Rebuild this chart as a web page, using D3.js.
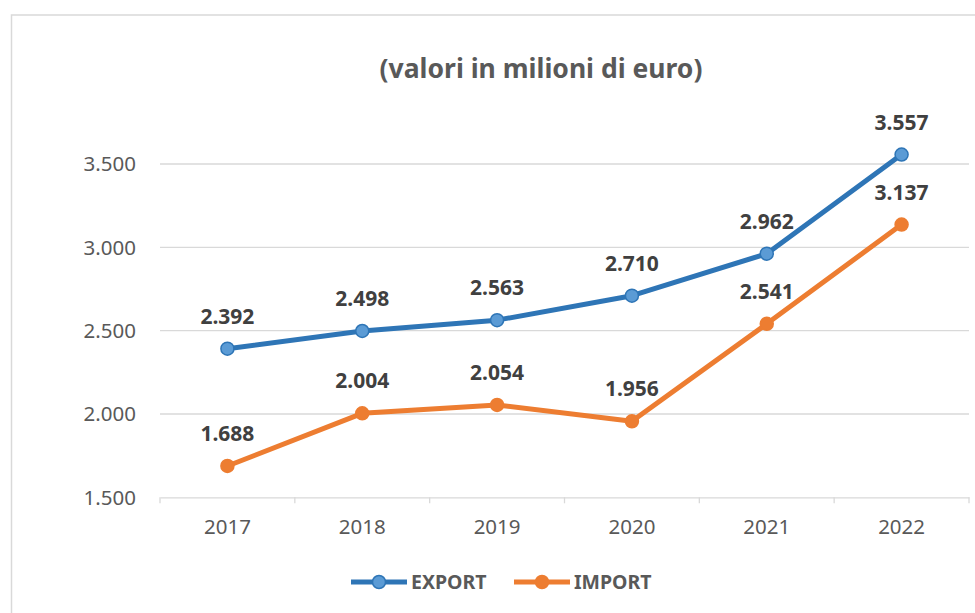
<!DOCTYPE html>
<html lang="it">
<head>
<meta charset="UTF-8">
<title>Export / Import</title>
<script src="https://cdn.jsdelivr.net/npm/d3@7"></script>
<style>
    body { margin: 0; background: #fff; }
    text { font-family: "Noto Sans", sans-serif; }
</style>
</head>
<body>
<script>
    const years = ["2017", "2018", "2019", "2020", "2021", "2022"];
    const exportValues = [2392, 2498, 2563, 2710, 2962, 3557];
    const importValues = [1688, 2004, 2054, 1956, 2541, 3137];
    const yTicks = [1500, 2000, 2500, 3000, 3500];

    const series = [
        {name: "EXPORT", values: exportValues, line: "#2e75b6", fill: "#5b9bd5"},
        {name: "IMPORT", values: importValues, line: "#ed7d31", fill: "#ed7d31"}
    ];

    const W = 975, H = 613;
    const plot = {left: 160, right: 969, top: 80.7, bottom: 497.3};

    const svg = d3.select("body").append("svg")
        .attr("width", W).attr("height", H);

    // chart frame
    svg.append("rect")
        .attr("x", 11.5).attr("y", 15)
        .attr("width", W).attr("height", H)
        .attr("fill", "none").attr("stroke", "#d9d9d9").attr("stroke-width", 1.5);

    const x = d3.scaleBand().domain(years).range([plot.left, plot.right]);
    const y = d3.scaleLinear().domain([1500, 4000]).range([plot.bottom, plot.top]);

    // gridlines
    svg.append("g").selectAll("line")
        .data(yTicks.slice(1))
        .join("line")
        .attr("x1", plot.left).attr("x2", plot.right)
        .attr("y1", d => y(d)).attr("y2", d => y(d))
        .attr("stroke", "#d9d9d9").attr("stroke-width", 1.3);

    // y labels
    const fmt = d3.formatLocale({decimal: ",", thousands: ".", grouping: [3], currency: ["", "€"]}).format(",.0f");
    svg.append("g").selectAll("text")
        .data(yTicks)
        .join("text")
        .attr("x", 136).attr("y", d => y(d))
        .attr("dy", "0.36em")
        .attr("text-anchor", "end")
        .attr("fill", "#595959")
        .style("font-size", "20.5px")
        .text(d => fmt(d));

    // x axis
    const xAxis = svg.append("g")
        .attr("transform", `translate(0,${plot.bottom})`)
        .call(d3.axisBottom(x).tickSize(0).tickPadding(22));
    xAxis.select(".domain").attr("stroke", "#d9d9d9").attr("stroke-width", 1.3);
    xAxis.selectAll("text")
        .attr("fill", "#595959")
        .style("font-size", "20.5px")
        .style("font-family", "Noto Sans, sans-serif");
    xAxis.selectAll(".sep")
        .data(years.concat(["end"]))
        .join("line")
        .attr("class", "sep")
        .attr("x1", (d, i) => plot.left + i * x.step())
        .attr("x2", (d, i) => plot.left + i * x.step())
        .attr("y1", 0).attr("y2", 6)
        .attr("stroke", "#d9d9d9").attr("stroke-width", 1.3);

    // title
    svg.append("text")
        .attr("x", 541).attr("y", 78)
        .attr("text-anchor", "middle")
        .attr("fill", "#595959")
        .style("font-size", "26.5px").style("font-weight", "bold")
        .text("(valori in milioni di euro)");

    const line = d3.line()
        .x((d, i) => x(years[i]) + x.bandwidth() / 2)
        .y(d => y(d));

    series.forEach(s => {
        const g = svg.append("g");
        g.append("path")
            .attr("d", line(s.values))
            .attr("fill", "none")
            .attr("stroke", s.line)
            .attr("stroke-width", 5)
            .attr("stroke-linejoin", "round");
        g.selectAll("circle")
            .data(s.values)
            .join("circle")
            .attr("cx", (d, i) => x(years[i]) + x.bandwidth() / 2)
            .attr("cy", d => y(d))
            .attr("r", 6.5)
            .attr("fill", s.fill)
            .attr("stroke", s.line)
            .attr("stroke-width", 1.5);
        g.selectAll("text")
            .data(s.values)
            .join("text")
            .attr("x", (d, i) => x(years[i]) + x.bandwidth() / 2)
            .attr("y", d => y(d) - 25)
            .attr("text-anchor", "middle")
            .attr("fill", "#404040")
            .style("font-size", "21px").style("font-weight", "bold")
            .text(d => fmt(d));
    });

    // legend
    const legendX = [351, 514];
    const legend = svg.append("g").selectAll("g")
        .data(series)
        .join("g")
        .attr("transform", (d, i) => `translate(${legendX[i]},582)`);
    legend.append("line")
        .attr("x1", 0).attr("x2", 56)
        .attr("stroke", d => d.line).attr("stroke-width", 5);
    legend.append("circle")
        .attr("cx", 28).attr("r", 6.5)
        .attr("fill", d => d.fill).attr("stroke", d => d.line).attr("stroke-width", 1.5);
    legend.append("text")
        .attr("x", 60).attr("dy", "0.36em")
        .attr("fill", "#595959")
        .style("font-size", "19.5px").style("font-weight", "bold")
        .text(d => d.name);
</script>
</body>
</html>
